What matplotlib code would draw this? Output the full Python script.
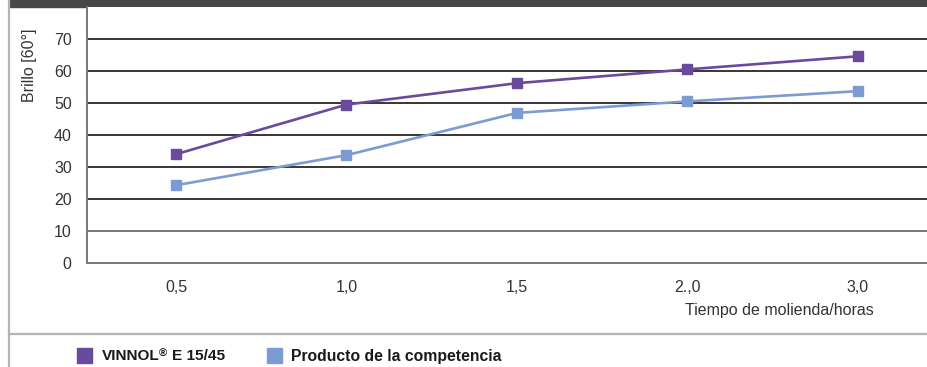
import matplotlib
matplotlib.use("Agg")
import matplotlib.pyplot as plt
from matplotlib.patches import Rectangle
from matplotlib.lines import Line2D

plt.rcParams['font.family'] = ['Liberation Sans', 'DejaVu Sans']

categories = ["0,5", "1,0", "1,5", "2.,0", "3,0"]
vinnol = [34.0, 49.5, 56.2, 60.5, 64.6]
competencia = [24.3, 33.7, 46.9, 50.5, 53.7]
yticks = [0, 10, 20, 30, 40, 50, 60, 70]
series_names = ["VINNOL", "®", "E 15/45", "Producto de la competencia"]

c_vinnol = "#6a4a9c"
c_comp = "#7b9bd2"

W, H = 927, 367
fig = plt.figure(figsize=(W / 100, H / 100), dpi=100)

def fx(px):
    return px / W

def fy(py):
    return 1 - py / H

# frame decorations
fig.add_artist(Rectangle((fx(9), fy(7)), 1 - fx(9), 7 / H, transform=fig.transFigure,
                         color="#474747", zorder=0))
fig.add_artist(Line2D([fx(9), fx(9)], [0, 1], transform=fig.transFigure,
                      color="#b4b4b4", lw=1.6))
fig.add_artist(Line2D([fx(9), 1], [fy(334), fy(334)], transform=fig.transFigure,
                      color="#b4b4b4", lw=1.6))

ax = fig.add_axes([fx(87), fy(263), fx(927) - fx(87), (263 - 7) / H])
x = list(range(len(categories)))

for v in yticks:
    if v == 0:
        continue
    col = "#777777" if v == 10 else "black"
    lw = 1.4 if v == 10 else 1.1
    ax.axhline(v, color=col, lw=lw, zorder=1)

ax.plot(x, vinnol, color=c_vinnol, lw=1.9, marker="s", ms=6.6, mec=c_vinnol, zorder=3)
ax.plot(x, competencia, color=c_comp, lw=1.9, marker="s", ms=6.6, mec=c_comp, zorder=3)

ax.set_xlim(-0.522, 4.405)
ax.set_ylim(0, 80)
ax.set_yticks(yticks)
ax.set_yticklabels([str(v) for v in yticks], fontsize=11.5, color="#333333")
ax.set_xticks(x)
ax.set_xticklabels(categories, fontsize=11.5, color="#333333")
ax.tick_params(axis="y", length=0, pad=11)
ax.tick_params(axis="x", length=0, pad=12)
for s in ["top", "right"]:
    ax.spines[s].set_visible(False)
for s in ["left", "bottom"]:
    ax.spines[s].set_color("#777777")
    ax.spines[s].set_linewidth(1.4)

fig.text(fx(30), fy(65), "Brillo [60°]", rotation=90, ha="center", va="center",
         fontsize=11.5, color="#333333")
fig.text(fx(779), fy(311), "Tiempo de molienda/horas", ha="center", va="center",
         fontsize=11.5, color="#333333")

# legend
fig.add_artist(Rectangle((fx(77), fy(363)), 15 / W, 15 / H, transform=fig.transFigure,
                         color=c_vinnol))
fig.add_artist(Rectangle((fx(267), fy(363)), 15 / W, 15 / H, transform=fig.transFigure,
                         color=c_comp))
renderer = fig.canvas.get_renderer()
t1 = fig.text(fx(102), fy(356), series_names[0], ha="left", va="center", fontsize=11.1,
              fontweight="bold", color="#1a1a1a")
w1 = t1.get_window_extent(renderer).width
t2 = fig.text(fx(102 + w1 - 0.5), fy(349), series_names[1], ha="left", va="top",
              fontsize=8, fontweight="bold", color="#1a1a1a")
w2 = t2.get_window_extent(renderer).width
fig.text(fx(102 + w1 + w2 + 4), fy(356), series_names[2], ha="left", va="center",
         fontsize=11.1, fontweight="bold", color="#1a1a1a")
fig.text(fx(291), fy(356), series_names[3], ha="left", va="center", fontsize=11.3,
         fontweight="bold", color="#1a1a1a")

fig.savefig("out.png", dpi=100)
